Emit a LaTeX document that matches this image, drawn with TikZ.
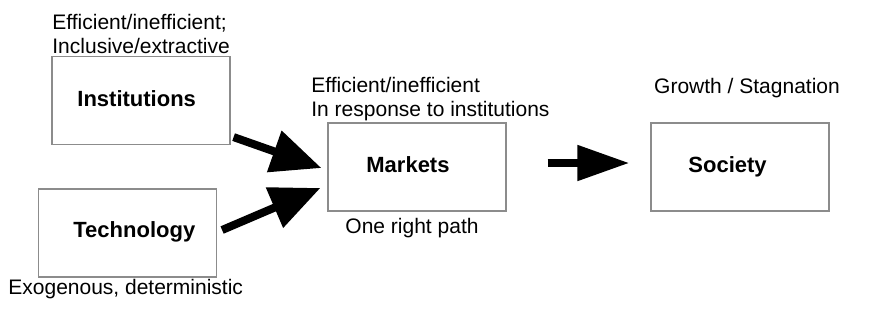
\documentclass[tikz,border=0pt]{standalone}
\usepackage{fontspec}
\setmainfont{Liberation Sans}
\usetikzlibrary{arrows.meta, positioning}

\tikzset{
    box/.style={draw=black!45, line width=0.6pt, minimum width=89pt, minimum height=44pt, inner sep=0pt},
    lbl/.style={font=\bfseries\fontsize{11}{13}\selectfont, inner sep=0pt, anchor=base west},
    note/.style={font=\fontsize{10.5}{12}\selectfont, inner sep=0pt, align=left},
    fat/.style={line width=4pt, -{Triangle[length=25pt,width=21pt]}},
    fatx/.style={line width=4pt, -{Triangle[length=26pt,width=17pt]}}
}

\begin{document}
\begin{tikzpicture}[x=0.5pt, y=-0.5pt]
    \useasboundingbox (0,0) rectangle (879,312);

    % Các khối
    \node[box] (inst) at (141,100.5) {};
    \node[box] (tech) at (127.5,233) {};
    \node[box] (mkt) at (417,167) {};
    \node[box] (soc) at (740,167) {};

    % Tên các khối
    \node[lbl] (instlbl) at (77,106) {Institutions};
    \node[lbl] (techlbl) at (73,237) {Technology};
    \node[lbl] (mktlbl) at (366,172) {Markets};
    \node[lbl] (soclbl) at (688,172) {Society};

    % Ghi chú
    \node[note, anchor=north west] (instnote) at (52,14) {Efficient/inefficient;\\Inclusive/extractive};
    \node[note, anchor=base west] (technote) at (8,294) {Exogenous, deterministic};
    \node[note, anchor=north west] (mktnote) at (311,77) {Efficient/inefficient\\In response to institutions};
    \node[note, anchor=base] (mktnote2) at (412,233) {One right path};
    \node[note, anchor=base] (socnote) at (747,93) {Growth / Stagnation};

    % Mũi tên
    \draw[fat] ([shift={(3,-8)}]inst.south east) -- ([shift={(-6,1)}]mkt.west);
    \draw[fat] ([shift={(5,-3)}]tech.east) -- ([shift={(-7,21)}]mkt.west);
    \draw[fatx] ([shift={(41,-4)}]mkt.east) -- ([shift={(-21,-4)}]soc.west);
\end{tikzpicture}
\end{document}
